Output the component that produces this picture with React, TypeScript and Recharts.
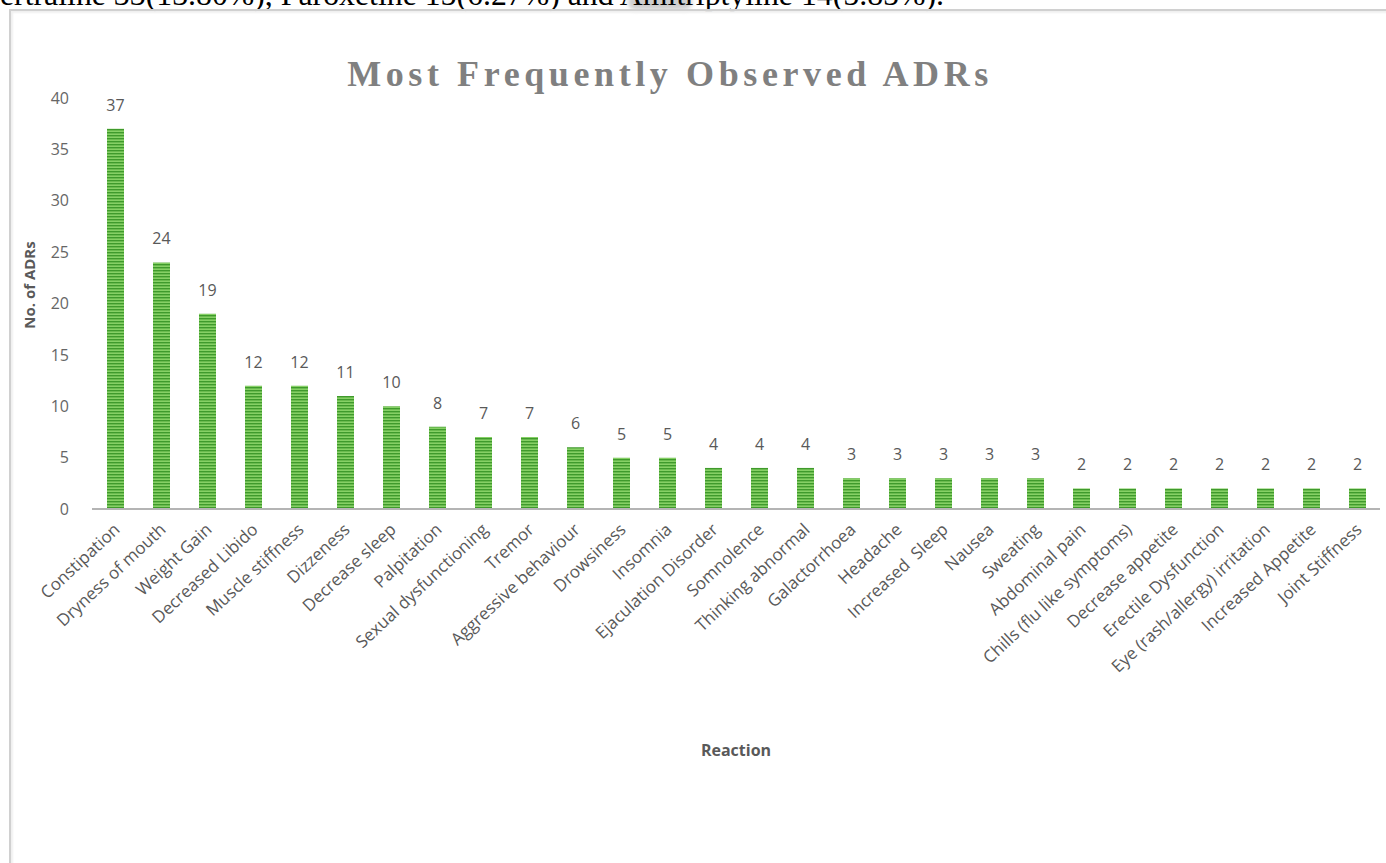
import React from "react";
import { BarChart, Bar, XAxis, YAxis, LabelList, Label } from "recharts";

const reactions = [
	"Constipation",
	"Dryness of mouth",
	"Weight Gain",
	"Decreased Libido",
	"Muscle stiffness",
	"Dizzeness",
	"Decrease sleep",
	"Palpitation",
	"Sexual dysfunctioning",
	"Tremor",
	"Aggressive behaviour",
	"Drowsiness",
	"Insomnia",
	"Ejaculation Disorder",
	"Somnolence",
	"Thinking abnormal",
	"Galactorrhoea",
	"Headache",
	"Increased  Sleep",
	"Nausea",
	"Sweating",
	"Abdominal pain",
	"Chills (flu like symptoms)",
	"Decrease appetite",
	"Erectile Dysfunction",
	"Eye (rash/allergy) irritation",
	"Increased Appetite",
	"Joint Stiffness",
];

const adrCounts = [
	37, 24, 19, 12, 12, 11, 10, 8, 7, 7, 6, 5, 5, 4, 4, 4, 3, 3, 3, 3, 3, 2, 2, 2, 2, 2,
	2, 2,
];

const yTicks = [0, 5, 10, 15, 20, 25, 30, 35, 40];

const data = reactions.map((name, i) => ({ name, count: adrCounts[i] }));

const labelFont = "'Open Sans', 'DejaVu Sans', sans-serif";
const grey = "#595959";

const ReactionTick = (props: any) => {
	const { x, y, payload } = props;
	const ax = x + 6;
	const ay = y + 14;
	return (
		<text
			x={ax}
			y={ay}
			transform={`rotate(-43, ${ax}, ${ay})`}
			textAnchor='end'
			fontFamily={labelFont}
			fontSize={17}
			fill={grey}
			style={{ whiteSpace: "pre" }}>
			{payload.value}
		</text>
	);
};

export default function App() {
	return (
		<div
			style={{
				position: "absolute",
				left: 0,
				top: 0,
				width: 1386,
				height: 863,
				background: "#fff",
				overflow: "hidden",
			}}>
			{/* highlight smudge on the paragraph line */}
			<div
				style={{
					position: "absolute",
					left: 628,
					top: -6,
					width: 64,
					height: 16,
					borderRadius: 8,
					background: "#cfcfcf",
					filter: "blur(2px)",
				}}
			/>
			{/* tail of the paragraph above the figure */}
			<div
				style={{
					position: "absolute",
					left: 0,
					top: -21,
					lineHeight: "32px",
					fontFamily: "'Liberation Serif', 'Times New Roman', serif",
					fontSize: 31.8,
					color: "#000",
					whiteSpace: "nowrap",
				}}>
				ertraline 33(13.80%), Paroxetine 15(6.27%) and Amitriptyline 14(5.85%).
			</div>
			<div
				style={{
					position: "absolute",
					left: 9,
					top: 9,
					width: 1400,
					height: 900,
					borderTop: "2px solid #d0d0d0",
					borderLeft: "2px solid #d0d0d0",
					boxShadow: "inset 2px 2px 2px #f0f0f0",
				}}
			/>
			<div
				style={{
					position: "absolute",
					left: 0,
					width: 1340,
					top: 53,
					textAlign: "center",
					fontFamily: "'Liberation Serif', 'Times New Roman', serif",
					fontWeight: "bold",
					fontSize: 36,
					letterSpacing: 4.6,
					color: "#808080",
				}}>
				Most Frequently Observed ADRs
			</div>
			<div
				style={{
					position: "absolute",
					left: 29,
					top: 285,
					transform: "translate(-50%, -50%) rotate(-90deg)",
					fontFamily: labelFont,
					fontWeight: "bold",
					fontSize: 15,
					color: grey,
					whiteSpace: "nowrap",
				}}>
				No. of ADRs
			</div>
			<div style={{ position: "absolute", left: 0, top: 0 }}>
				<BarChart
					width={1386}
					height={863}
					data={data}
					barSize={17}
					margin={{ top: 98, right: 6, left: 62, bottom: 103 }}>
					<defs>
						<pattern
							id='stripes'
							width='4'
							height='3'
							patternUnits='userSpaceOnUse'>
							<rect width='4' height='3' fill='#86d065' />
							<rect width='4' height='1.4' fill='#3f9a2c' />
						</pattern>
					</defs>
					<XAxis
						dataKey='name'
						interval={0}
						height={251}
						tickLine={false}
						axisLine={{ stroke: "#b4b4b4", strokeWidth: 2 }}
						tick={<ReactionTick />}>
						<Label
							value='Reaction'
							position='insideBottom'
							offset={4}
							fontFamily={labelFont}
							fontWeight='bold'
							fontSize={16}
							fill={grey}
						/>
					</XAxis>
					<YAxis
						width={30}
						domain={[0, 40]}
						ticks={yTicks}
						axisLine={false}
						tickLine={false}
						tickSize={0}
						tickMargin={23}
						tick={{ fontFamily: labelFont, fontSize: 16, fill: "#666" }}
					/>
					<Bar
						dataKey='count'
						fill='url(#stripes)'
						isAnimationActive={false}>
						<LabelList
							dataKey='count'
							position='top'
							offset={18}
							fontFamily={labelFont}
							fontSize={16}
							fill={grey}
						/>
					</Bar>
				</BarChart>
			</div>
		</div>
	);
}
